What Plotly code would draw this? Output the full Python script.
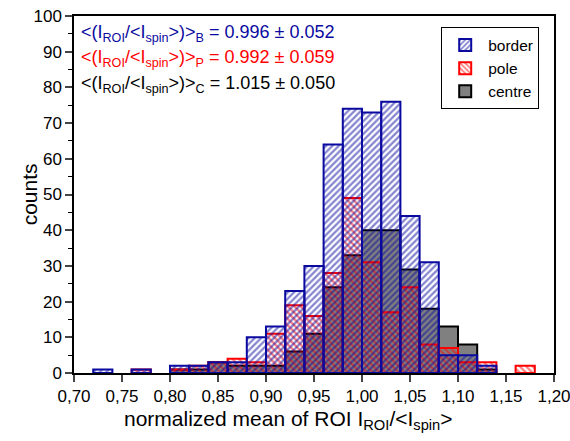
import plotly.graph_objects as go

# Histogram bin centres (bin width 0.02) and counts per region
bin_centres = [0.73, 0.75, 0.77, 0.79, 0.81, 0.83, 0.85, 0.87, 0.89, 0.91, 0.93, 0.95,
               0.97, 0.99, 1.01, 1.03, 1.05, 1.07, 1.09, 1.11, 1.13, 1.15, 1.17]
border_counts = [1, 0, 1, 0, 2, 2, 3, 3, 10, 13, 23, 30, 64, 74, 73, 76, 44, 31, 5, 5, 2, 0, 0]
pole_counts = [0, 0, 1, 0, 1, 2, 3, 4, 3, 11, 19, 16, 28, 49, 31, 17, 24, 8, 7, 3, 3, 0, 2]
centre_counts = [0, 0, 0, 0, 1, 1, 3, 2, 2, 2, 6, 11, 24, 33, 40, 40, 29, 18, 13, 8, 1, 0, 0]
bin_width = 0.02

stat_lines = [
    ("B", "0.996 ± 0.052", "#0A0AA0"),
    ("P", "0.992 ± 0.059", "#FF0000"),
    ("C", "1.015 ± 0.050", "#000000"),
]

BLUE = "#0A0AA0"
RED = "#FF0000"
GREY = "#808080"
FONT = "Liberation Sans, Arial, sans-serif"


def nonzero(xs, ys):
    pairs = [(x, y) for x, y in zip(xs, ys) if y > 0]
    return [p[0] for p in pairs], [p[1] for p in pairs]


fig = go.Figure()

cx, cy = nonzero(bin_centres, centre_counts)
fig.add_trace(go.Bar(
    x=cx, y=cy, width=bin_width, name="centre",
    marker=dict(color=GREY, line=dict(color="black", width=2)),
))

px, py = nonzero(bin_centres, pole_counts)
fig.add_trace(go.Bar(
    x=px, y=py, width=bin_width, name="pole",
    marker=dict(color=RED, line=dict(color=RED, width=2),
                pattern=dict(shape="\\", fgcolor=RED, bgcolor="rgba(0,0,0,0)",
                             size=4.5, solidity=0.5)),
))

bx, by = nonzero(bin_centres, border_counts)
fig.add_trace(go.Bar(
    x=bx, y=by, width=bin_width, name="border",
    marker=dict(color=BLUE, line=dict(color=BLUE, width=2),
                pattern=dict(shape="/", fgcolor=BLUE, bgcolor="rgba(0,0,0,0)",
                             size=4.5, solidity=0.5)),
))

# Mean ± SD labels in the upper-left corner
for i, (tag, val, col) in enumerate(stat_lines):
    fig.add_annotation(
        text=f"&lt;(I<sub>ROI</sub>/&lt;I<sub>spin</sub>&gt;)&gt;<sub>{tag}</sub> = {val}",
        xref="paper", yref="paper", x=0.01, y=0.988 - i * 0.0705,
        xanchor="left", yanchor="top", showarrow=False,
        font=dict(family=FONT, size=18, color=col),
    )

# Axis titles
fig.add_annotation(
    text="normalized mean of ROI I<sub>ROI</sub>/&lt;I<sub>spin</sub>&gt;",
    xref="paper", yref="paper", x=0.446, y=-0.132,
    xanchor="center", yanchor="middle", showarrow=False,
    font=dict(family=FONT, size=21, color="black"),
)
fig.add_annotation(
    text="counts", textangle=-90,
    xref="paper", yref="paper", x=-0.092, y=0.5,
    xanchor="center", yanchor="middle", showarrow=False,
    font=dict(family=FONT, size=21, color="black"),
)

fig.update_layout(
    width=570, height=441,
    margin=dict(l=74, r=16, t=16, b=68),
    paper_bgcolor="white", plot_bgcolor="white",
    barmode="overlay",
    separators=",.",
    font=dict(family=FONT, size=17, color="black"),
    showlegend=True,
    legend=dict(
        x=0.765, y=0.968, xanchor="left", yanchor="top",
        traceorder="reversed",
        bordercolor="black", borderwidth=1, bgcolor="white",
        font=dict(family=FONT, size=15.5),
        itemwidth=36, tracegroupgap=0,
    ),
    xaxis=dict(
        range=[0.70, 1.20], tickmode="linear", tick0=0.70, dtick=0.05,
        tickformat=".2f", ticks="outside", ticklen=7, tickwidth=1.5,
        showline=True, linewidth=1.5, linecolor="black", mirror=True,
        showgrid=False, zeroline=False, automargin=False,
        ticklabeloverflow="allow",
        tickfont=dict(size=17),
    ),
    yaxis=dict(
        range=[0, 100], tickmode="linear", tick0=0, dtick=10,
        ticks="outside", ticklen=7, tickwidth=1.5,
        minor=dict(ticks="outside", ticklen=4, tickwidth=1.2, dtick=5, tickcolor="black"),
        showline=True, linewidth=1.5, linecolor="black", mirror=True,
        showgrid=False, zeroline=False, automargin=False,
        tickfont=dict(size=17),
    ),
)

fig.write_html("out.html")
